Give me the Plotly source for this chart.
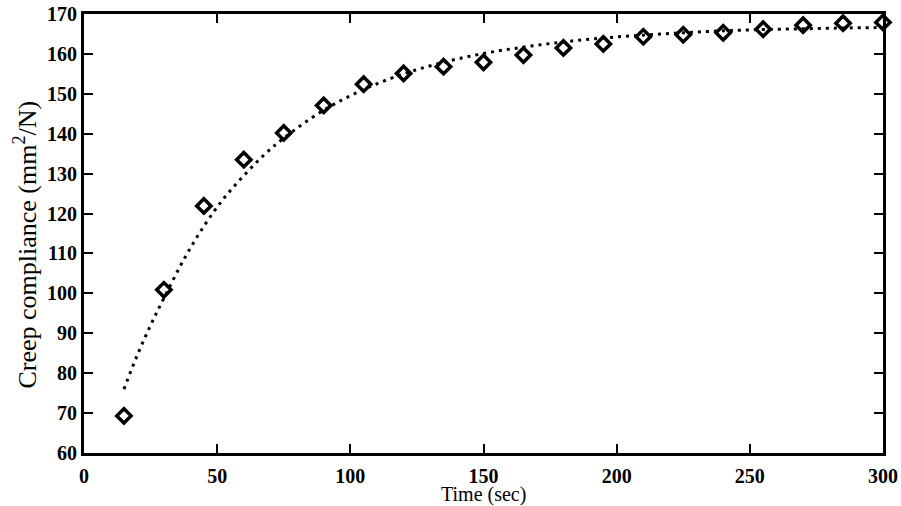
import plotly.graph_objects as go

# Measured creep compliance (diamonds)
time_s = [15, 30, 45, 60, 75, 90, 105, 120, 135, 150,
          165, 180, 195, 210, 225, 240, 255, 270, 285, 300]
compliance = [69.3, 100.9, 121.9, 133.5, 140.2, 147.1, 152.4, 155.1, 156.8, 157.9,
              159.7, 161.5, 162.5, 164.3, 164.8, 165.3, 166.2, 167.2, 167.7, 167.9]

# Fitted curve (dotted)
fit_time = [15, 20, 25, 30, 37.5, 45, 52.5, 60, 67.5, 75, 90, 105, 120,
            135, 150, 165, 180, 195, 210, 225, 240, 255, 270, 285, 300]
fit_compliance = [76.0, 84.5, 92.0, 98.8, 108.5, 116.8, 123.8, 129.5, 134.6, 138.9,
                  145.9, 151.1, 155.0, 157.9, 160.1, 161.7, 163.0, 164.0, 164.7,
                  165.3, 165.8, 166.1, 166.3, 166.5, 166.6]

x_ticks = [0, 50, 100, 150, 200, 250, 300]
y_ticks = [60, 70, 80, 90, 100, 110, 120, 130, 140, 150, 160, 170]

x_title = "Time (sec)"
y_title = "Creep compliance (mm<sup>2</sup>/N)"

fig = go.Figure()
fig.add_trace(go.Scatter(
    x=fit_time, y=fit_compliance, mode="lines",
    line=dict(color="black", width=3, dash="3px,5px", shape="spline"),
    showlegend=False, hoverinfo="skip"))
fig.add_trace(go.Scatter(
    x=time_s, y=compliance, mode="markers",
    marker=dict(symbol="diamond-open", size=11, color="black",
                line=dict(color="black", width=3.5)),
    cliponaxis=False, showlegend=False))

tick_font = dict(family="Liberation Serif", size=20, color="black")
axis_common = dict(
    ticks="inside", ticklen=9, tickwidth=2, tickcolor="black",
    showline=True, linewidth=3, linecolor="black", mirror="ticks",
    showgrid=False, zeroline=False, tickfont=tick_font, automargin=False,
    ticklabeloverflow="allow")

fig.update_layout(
    width=901, height=506,
    margin=dict(l=84, r=18, t=14, b=53),
    paper_bgcolor="white", plot_bgcolor="white",
    font=dict(family="Liberation Serif", color="black"),
    xaxis=dict(range=[0, 300], tickvals=x_ticks, ticklabelstandoff=3,
               ticktext=[f"<b>{v}</b>" for v in x_ticks], **axis_common),
    yaxis=dict(range=[60, 170], tickvals=y_ticks,
               ticktext=[f"<b>{v}</b>" for v in y_ticks], **axis_common),
    annotations=[
        dict(text=x_title, xref="paper", yref="paper", x=0.5, y=-0.094,
             xanchor="center", yanchor="middle", showarrow=False, borderpad=0,
             font=dict(family="Liberation Serif", size=20, color="black")),
        dict(text=y_title, xref="paper", yref="paper", x=-0.073, y=0.474,
             xanchor="center", yanchor="middle", showarrow=False, textangle=-90,
             font=dict(family="Liberation Serif", size=26, color="black")),
    ],
)

# remove the default 8px page margin so the figure fills the window exactly
fig.write_html("out.html", config={"displayModeBar": False},
               post_script="document.body.style.margin='0';")
